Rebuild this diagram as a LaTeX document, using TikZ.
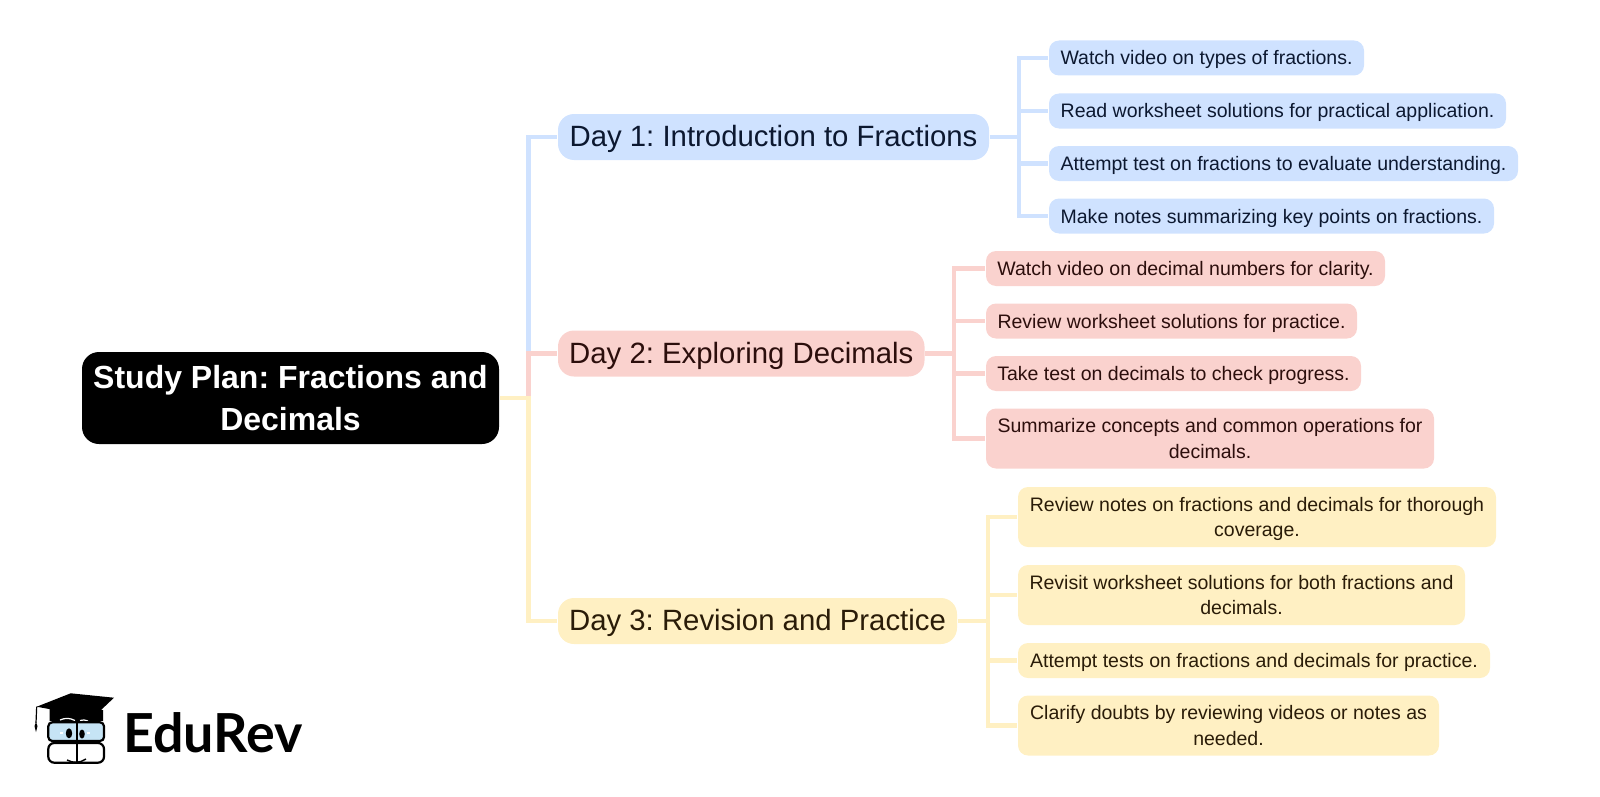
\documentclass[tikz,border=0pt]{standalone}
\usepackage{fontspec}
\setmainfont{Liberation Sans}
\newfontfamily\logofont{Lato}
\definecolor{planblue}{RGB}{207, 226, 255}
\definecolor{planred}{RGB}{250, 210, 206}
\definecolor{planyellow}{RGB}{255, 240, 195}
\definecolor{inkblue}{RGB}{12, 24, 48}
\definecolor{inkred}{RGB}{44, 14, 12}
\definecolor{inkyellow}{RGB}{42, 28, 8}
\definecolor{lensblue}{RGB}{198, 228, 245}
\frenchspacing
\tikzset{
  rootbox/.style={fill=black, text=white, rounded corners=0.17cm, inner sep=0pt, align=center,
    font=\fontsize{9.1pt}{11.95pt}\selectfont\bfseries, minimum height=0.92cm},
  daybox/.style={rounded corners=0.16cm, inner sep=0pt, font=\fontsize{8.35pt}{10pt}\selectfont, minimum height=0.46cm,
    text height=0.22cm, text depth=0.03cm},
  plainbox/.style={rounded corners=0.1cm, inner sep=0pt, align=center, font=\fontsize{5.55pt}{7.25pt}\selectfont},
  leafbox/.style={plainbox, minimum height=0.35cm, text height=0.16cm, text depth=0.02cm},
  tallbox/.style={plainbox, minimum height=0.6cm, text depth=0cm},
  link/.style={line width=0.047cm},
}
\begin{document}
\begin{tikzpicture}
\useasboundingbox (0,0) rectangle (16,7.96);

\coordinate (trunk) at (5.285,3.98);
\coordinate (barblue) at (10.19,5.8);
\coordinate (barred) at (9.54,3.6);
\coordinate (baryellow) at (9.88,0.7);

\node[rootbox, minimum width=4.17cm] (root) at (2.905,3.98) {Study Plan: Fractions and\\Decimals};

\node[daybox, fill=planblue, text=inkblue, minimum width=4.31cm] (dayone) at (7.735,6.59) {Day 1: Introduction to Fractions};
\node[daybox, fill=planred, text=inkred, minimum width=3.665cm] (daytwo) at (7.4125,4.425) {Day 2: Exploring Decimals};
\node[daybox, fill=planyellow, text=inkyellow, minimum width=3.99cm] (daythree) at (7.575,1.75) {Day 3: Revision and Practice};

\node[leafbox, fill=planblue, text=inkblue, minimum width=3.15cm] (blueone) at (12.065,7.38) {Watch video on types of fractions.};
\node[leafbox, fill=planblue, text=inkblue, minimum width=4.57cm] (bluetwo) at (12.775,6.85) {Read worksheet solutions for practical application.};
\node[leafbox, fill=planblue, text=inkblue, minimum width=4.69cm] (bluethree) at (12.835,6.325) {Attempt test on fractions to evaluate understanding.};
\node[leafbox, fill=planblue, text=inkblue, minimum width=4.45cm] (bluefour) at (12.715,5.8) {Make notes summarizing key points on fractions.};

\node[leafbox, fill=planred, text=inkred, minimum width=3.99cm] (redone) at (11.855,5.275) {Watch video on decimal numbers for clarity.};
\node[leafbox, fill=planred, text=inkred, minimum width=3.71cm] (redtwo) at (11.715,4.75) {Review worksheet solutions for practice.};
\node[leafbox, fill=planred, text=inkred, minimum width=3.75cm] (redthree) at (11.735,4.225) {Take test on decimals to check progress.};
\node[tallbox, fill=planred, text=inkred, minimum width=4.48cm] (redfour) at (12.1,3.575) {Summarize concepts and common operations for\\decimals.};

\node[tallbox, fill=planyellow, text=inkyellow, minimum width=4.78cm] (yellowone) at (12.57,2.79) {Review notes on fractions and decimals for thorough\\coverage.};
\node[tallbox, fill=planyellow, text=inkyellow, minimum width=4.47cm] (yellowtwo) at (12.415,2.01) {Revisit worksheet solutions for both fractions and\\decimals.};
\node[leafbox, fill=planyellow, text=inkyellow, minimum width=4.72cm] (yellowthree) at (12.54,1.355) {Attempt tests on fractions and decimals for practice.};
\node[tallbox, fill=planyellow, text=inkyellow, minimum width=4.21cm] (yellowfour) at (12.285,0.705) {Clarify doubts by reviewing videos or notes as\\needed.};

\draw[link, planblue] (root.east) -- (trunk |- root.east) -- (trunk |- dayone.west) -- (dayone.west);
\draw[link, planblue] (blueone.west) -- (barblue |- blueone.west) -- (barblue |- bluefour.west) -- (bluefour.west);
\draw[link, planblue] (dayone.east) -- (barblue |- dayone.east);
\draw[link, planblue] (barblue |- bluetwo.west) -- (bluetwo.west);
\draw[link, planblue] (barblue |- bluethree.west) -- (bluethree.west);

\draw[link, planred] (root.east) -- (trunk |- root.east) -- (trunk |- daytwo.west) -- (daytwo.west);
\draw[link, planred] (redone.west) -- (barred |- redone.west) -- (barred |- redfour.west) -- (redfour.west);
\draw[link, planred] (daytwo.east) -- (barred |- daytwo.east);
\draw[link, planred] (barred |- redtwo.west) -- (redtwo.west);
\draw[link, planred] (barred |- redthree.west) -- (redthree.west);

\draw[link, planyellow] (root.east) -- (trunk |- root.east) -- (trunk |- daythree.west) -- (daythree.west);
\draw[link, planyellow] (yellowone.west) -- (baryellow |- yellowone.west) -- (baryellow |- yellowfour.west) -- (yellowfour.west);
\draw[link, planyellow] (daythree.east) -- (baryellow |- daythree.east);
\draw[link, planyellow] (baryellow |- yellowtwo.west) -- (yellowtwo.west);
\draw[link, planyellow] (baryellow |- yellowthree.west) -- (yellowthree.west);

\node[anchor=base west, inner sep=0pt, font=\fontsize{15.3pt}{17pt}\logofont\bfseries] (brand) at (1.225,0.433) {EduRev};

\fill[black] (0.495,0.87) -- (0.495,0.75) -- (1.03,0.75) -- (1.03,0.86) -- cycle;
\fill[black] (0.367,0.893) -- (0.707,1.027) -- (1.14,0.983) -- (0.933,0.787) -- cycle;
\draw[line width=0.012cm] (0.367,0.893) -- (0.36,0.73);
\fill[black] (0.345,0.70) -- (0.36,0.74) -- (0.375,0.70) -- (0.36,0.64) -- cycle;
\draw[white, line width=0.012cm] (0.60,0.76) to[bend left=25] (0.75,0.755);
\draw[white, line width=0.012cm] (0.80,0.755) to[bend left=20] (0.88,0.75);
\draw[line width=0.022cm, fill=lensblue, rounded corners=0.04cm] (0.483,0.737) rectangle (1.04,0.55);
\draw[line width=0.022cm, rounded corners=0.06cm] (0.483,0.53) rectangle (1.04,0.333);
\draw[line width=0.022cm] (0.767,0.74) -- (0.767,0.33);
\draw[line width=0.014cm] (0.67,0.36) to[bend right=30] (0.86,0.37);
\fill[black] (0.69,0.627) ellipse (0.032 and 0.05);
\fill[black] (0.82,0.62) ellipse (0.028 and 0.045);
\fill[white] (0.60,0.64) rectangle (0.63,0.62);
\fill[white] (0.87,0.64) rectangle (0.90,0.62);
\end{tikzpicture}
\end{document}
